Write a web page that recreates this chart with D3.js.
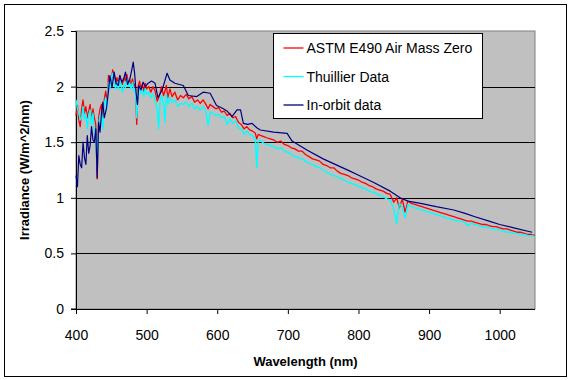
<!DOCTYPE html>
<html>
<head>
<meta charset="utf-8">
<script src="https://cdn.jsdelivr.net/npm/d3@7/dist/d3.min.js"></script>
<style>
  body { margin: 0; background: #fff; }
  text { font-family: "Liberation Sans", Arial, sans-serif; }
</style>
</head>
<body>
<div id="chart"></div>
<script>
// wavelength grid shared by the two reference spectra (nm)
var specWl = [400,402,404,406,408,410,412,414,416,418,420,422,424,426,428,430,432,434,436,438,440,442,444,446,448,450,452,454,456,458,460,462,464,466,468,470,472,474,476,478,480,482,484,486,488,490,492,494,496,498,500,503,506,509,512,515,517,519,521,524,526,528,530,533,536,540,544,548,552,556,560,564,568,572,576,580,584,587,590,594,598,602,606,610,614,618,622,626,630,634,638,642,646,650,654,656,658,662,666,670,675,680,685,690,695,700,705,710,715,720,725,730,735,740,745,750,755,760,765,770,775,780,785,790,795,800,805,810,815,820,825,830,835,840,845,850,854,858,862,866,870,875,880,885,890,895,900,905,910,915,920,925,930,935,940,945,950,955,960,965,970,975,980,985,990,995,1000,1005,1010,1015,1020,1025,1030,1035,1040,1045,1050];

// ASTM E490 air mass zero (W/m^2/nm)
var astm = [1.74,1.83,1.70,1.64,1.80,1.88,1.76,1.82,1.72,1.78,1.84,1.70,1.80,1.72,1.66,1.17,1.72,1.80,1.84,1.70,1.88,1.96,1.86,2.10,2.02,2.06,2.15,2.10,2.02,2.08,2.03,2.10,2.04,2.02,2.08,2.05,2.11,2.04,2.06,2.02,2.07,2.00,2.03,1.66,2.00,2.05,1.98,2.02,1.96,2.03,1.98,2.00,1.95,2.00,1.96,1.87,1.90,1.94,2.00,1.92,1.96,2.01,1.90,1.98,1.91,1.95,1.88,1.92,1.90,1.93,1.89,1.91,1.86,1.88,1.85,1.88,1.84,1.80,1.84,1.82,1.80,1.81,1.77,1.78,1.74,1.76,1.72,1.73,1.68,1.66,1.62,1.64,1.61,1.60,1.58,1.53,1.57,1.56,1.55,1.54,1.53,1.52,1.50,1.51,1.48,1.47,1.45,1.44,1.42,1.42,1.39,1.37,1.35,1.34,1.33,1.30,1.29,1.27,1.27,1.24,1.22,1.21,1.20,1.18,1.17,1.16,1.14,1.13,1.11,1.10,1.08,1.07,1.06,1.04,1.03,0.96,1.00,0.91,0.99,0.87,0.97,0.95,0.94,0.93,0.92,0.91,0.90,0.89,0.88,0.87,0.86,0.85,0.84,0.83,0.82,0.81,0.80,0.79,0.79,0.78,0.77,0.76,0.76,0.75,0.74,0.74,0.73,0.72,0.72,0.71,0.70,0.69,0.69,0.68,0.67,0.67,0.66];

// Thuillier data
var thuillier = [1.88,1.80,1.76,1.70,1.72,1.82,1.70,1.76,1.62,1.74,1.79,1.66,1.76,1.60,1.55,1.28,1.66,1.74,1.77,1.62,1.84,1.90,1.80,2.04,1.98,2.08,2.12,2.05,1.98,2.04,1.97,2.06,2.00,1.95,2.03,1.99,2.07,2.00,2.03,1.98,2.04,1.96,1.99,1.72,1.95,2.00,1.94,1.97,1.91,1.98,1.93,1.95,1.90,1.94,1.88,1.80,1.62,1.86,1.92,1.85,1.68,1.93,1.84,1.90,1.86,1.88,1.82,1.85,1.84,1.86,1.82,1.85,1.80,1.82,1.79,1.82,1.78,1.65,1.77,1.76,1.74,1.75,1.72,1.73,1.66,1.71,1.67,1.69,1.63,1.62,1.57,1.60,1.57,1.56,1.53,1.27,1.52,1.51,1.49,1.48,1.47,1.46,1.44,1.45,1.42,1.41,1.39,1.37,1.36,1.35,1.33,1.31,1.30,1.28,1.27,1.25,1.23,1.21,1.20,1.19,1.17,1.16,1.14,1.13,1.12,1.10,1.09,1.08,1.06,1.05,1.04,1.02,1.01,0.99,0.98,0.90,0.77,0.95,0.92,0.82,0.94,0.92,0.91,0.90,0.89,0.88,0.87,0.86,0.85,0.84,0.83,0.82,0.81,0.80,0.79,0.79,0.78,0.75,0.77,0.76,0.75,0.74,0.74,0.73,0.72,0.72,0.71,0.70,0.69,0.69,0.68,0.68,0.67,0.67,0.66,0.66,0.65];

// in-orbit measurement
var orbitWl = [400,402,404,406,408,410,412,414,416,418,420,422,424,426,428,430,432,434,436,438,440,443,446,448,451,454,457,460,462,465,468,470,473,476,479,481,483,485,487,489,492,495,498,502,507,512,516,522,529,533,540,552,559,571,580,590,599,606,614,621,628,633,637,643,649,656,661,680,699,706,727,750,774,788,798,821,845,859,870,888,910,935,951,965,985,1000,1020,1046];
var orbit = [1.20,1.10,1.38,1.30,1.27,1.50,1.36,1.30,1.56,1.40,1.47,1.64,1.52,1.50,1.62,1.18,1.68,1.59,1.75,1.86,1.72,1.80,1.96,2.10,1.99,2.13,2.03,2.01,2.10,2.04,2.08,2.13,2.02,2.06,2.15,2.22,2.12,1.95,1.84,2.01,1.97,2.04,2.00,2.03,2.05,2.03,1.90,1.97,2.12,2.06,2.03,2.01,1.92,1.91,1.95,1.94,1.83,1.81,1.78,1.73,1.79,1.79,1.67,1.66,1.67,1.63,1.61,1.59,1.58,1.51,1.43,1.35,1.28,1.24,1.21,1.14,1.06,1.00,0.97,0.95,0.92,0.89,0.86,0.83,0.79,0.76,0.73,0.69];

var seriesNames = ["ASTM E490 Air Mass Zero", "Thuillier Data", "In-orbit data"];
var seriesColors = ["#ff0000", "#00ffff", "#000080"];
var xTicks = [400, 500, 600, 700, 800, 900, 1000];
var yTicks = [0, 0.5, 1, 1.5, 2, 2.5];

var W = 570, H = 380;
var margin = { top: 31, right: 35, bottom: 71, left: 76 },
  width = W - margin.left - margin.right,
  height = H - margin.top - margin.bottom;

var svg = d3.select("#chart").append("svg")
  .attr("width", W)
  .attr("height", H);

// outer frame
svg.append("rect")
  .attr("x", 4.5).attr("y", 4.5)
  .attr("width", 562).attr("height", 372)
  .attr("fill", "#fff")
  .attr("stroke", "#000");

var g = svg.append("g")
  .attr("transform", "translate(" + margin.left + "," + margin.top + ")");

var x = d3.scaleLinear().domain([400, 1050]).range([0, width]);
var y = d3.scaleLinear().domain([0, 2.5]).range([height, 0]);

// plot area
g.append("rect")
  .attr("width", width).attr("height", height)
  .attr("fill", "#c0c0c0")
  .attr("stroke", "#808080");

// gridlines
g.selectAll(".grid")
  .data(yTicks.filter(function (d) { return d > 0 && d < 2.5; }))
  .enter().append("line")
  .attr("x1", 0).attr("x2", width)
  .attr("y1", function (d) { return Math.round(y(d)) + 0.5; })
  .attr("y2", function (d) { return Math.round(y(d)) + 0.5; })
  .attr("stroke", "#000");

// axes
var yAxis = g.append("g")
  .call(d3.axisLeft(y).tickValues(yTicks).tickSize(5).tickPadding(7)
    .tickFormat(function (d) { return d === 0 ? "0" : String(d); }));
var xAxis = g.append("g")
  .attr("transform", "translate(0," + height + ")")
  .call(d3.axisBottom(x).tickValues(xTicks).tickSize(5).tickPadding(16).tickFormat(d3.format("d")));

[xAxis, yAxis].forEach(function (a) {
  a.select(".domain").attr("stroke", "#000");
  a.selectAll("line").attr("stroke", "#000");
  a.selectAll("text").attr("fill", "#000").style("font-size", "14px")
    .style("font-family", '"Liberation Sans", Arial, sans-serif');
});
yAxis.select(".domain").attr("d", "M-5,0.5H0.5V" + height + "H-5");
xAxis.select(".domain").attr("d", "M0.5,0V0.5H" + width);

// series
var line = d3.line()
  .x(function (d) { return x(d[0]); })
  .y(function (d) { return y(d[1]); });

var series = [
  { data: d3.zip(specWl, astm), w: 1.3 },
  { data: d3.zip(specWl, thuillier), w: 1.4 },
  { data: d3.zip(orbitWl, orbit), w: 1.2 }
];

series.forEach(function (s, i) {
  g.append("path")
    .datum(s.data)
    .attr("fill", "none")
    .attr("stroke", seriesColors[i])
    .attr("stroke-width", s.w)
    .attr("stroke-linejoin", "round")
    .attr("d", line);
});

// legend
var legend = svg.append("g").attr("transform", "translate(273.5,33.5)");
legend.append("rect")
  .attr("width", 209).attr("height", 85)
  .attr("fill", "#fff").attr("stroke", "#000");
seriesNames.forEach(function (name, i) {
  var ly = 14.5 + i * 28.5;
  legend.append("line")
    .attr("x1", 10).attr("x2", 30)
    .attr("y1", ly).attr("y2", ly)
    .attr("stroke", seriesColors[i])
    .attr("stroke-width", 1.3);
  legend.append("text")
    .attr("x", 33).attr("y", ly + 5)
    .style("font-size", "14px")
    .text(name);
});

// axis titles
svg.append("text")
  .attr("x", margin.left + width / 2).attr("y", 366)
  .attr("text-anchor", "middle")
  .style("font-size", "13px").style("font-weight", "bold")
  .text("Wavelength (nm)");

svg.append("text")
  .attr("transform", "translate(29," + (margin.top + height / 2) + ") rotate(-90)")
  .attr("text-anchor", "middle")
  .style("font-size", "13px").style("font-weight", "bold")
  .text("Irradiance (W/m^2/nm)");
</script>
</body>
</html>
